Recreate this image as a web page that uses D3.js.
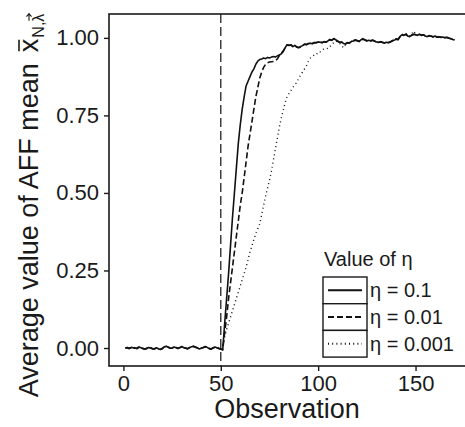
<!DOCTYPE html>
<html>
<head>
<meta charset="utf-8">
<script src="https://cdn.jsdelivr.net/npm/d3@7"></script>
<style>
  body { margin: 0; background: white; }
  svg text { font-family: "Liberation Sans", Arial, sans-serif; fill: #1a1a1a; }
</style>
</head>
<body>
<div id="chart"></div>
<script>
var width = 465;
var height = 427;

// observations 1..170
var obs = d3.range(1, 171);

var eta_01 = [
  0.001, 0.000, -0.002, 0.002, 0.001, -0.001, 0.000, 0.003, 0.001, -0.002,
  -0.004, -0.001, 0.002, 0.000, -0.003, -0.002, 0.001, -0.003, -0.005, -0.002,
  0.004, 0.006, 0.002, -0.001, 0.000, 0.003, 0.001, -0.002, 0.002, 0.005,
  0.001, -0.001, -0.003, 0.002, 0.004, 0.006, 0.003, 0.000, -0.003, -0.001,
  0.002, 0.005, 0.002, -0.002, -0.004, 0.001, 0.003, 0.001, -0.002, -0.004,
  -0.006, 0.08, 0.16, 0.24, 0.33, 0.42, 0.50, 0.58, 0.66, 0.72,
  0.77, 0.81, 0.845, 0.86, 0.875, 0.89, 0.90, 0.915, 0.925, 0.930,
  0.932, 0.935, 0.933, 0.937, 0.935, 0.938, 0.940, 0.938, 0.942, 0.945,
  0.948, 0.955, 0.968, 0.978, 0.975, 0.978, 0.972, 0.976, 0.970, 0.968,
  0.972, 0.975, 0.980, 0.978, 0.982, 0.983, 0.981, 0.985, 0.984, 0.987,
  0.986, 0.984, 0.988, 0.986, 0.990, 0.995, 0.992, 0.998, 0.994, 0.990,
  0.985, 0.987, 0.982, 0.980, 0.985, 0.983, 0.988, 0.990, 0.993, 0.991,
  0.988, 0.994, 0.997, 0.993, 0.990, 0.992, 0.990, 0.993, 0.989, 0.987,
  0.985, 0.988, 0.985, 0.983, 0.986, 0.984, 0.987, 0.990, 0.992, 0.996,
  0.994, 1.004, 1.010, 1.008, 1.012, 1.006, 1.004, 1.009, 1.012, 1.010,
  1.008, 1.012, 1.008, 1.010, 1.006, 1.004, 1.007, 1.005, 1.003, 1.006,
  1.002, 1.004, 1.001, 1.003, 1.000, 1.002, 0.999, 0.998, 0.995, 0.993
];

var eta_001 = [
  0.000, 0.002, -0.001, 0.001, 0.002, 0.000, -0.002, 0.002, 0.002, -0.001,
  -0.003, -0.002, 0.001, 0.001, -0.002, -0.003, 0.000, -0.004, -0.004, -0.001,
  0.003, 0.005, 0.003, 0.000, -0.001, 0.002, 0.002, -0.001, 0.001, 0.004,
  0.002, 0.000, -0.002, 0.001, 0.005, 0.005, 0.002, 0.001, -0.002, 0.000,
  0.001, 0.004, 0.003, -0.001, -0.003, 0.000, 0.002, 0.002, -0.001, -0.003,
  -0.005, 0.05, 0.10, 0.16, 0.21, 0.26, 0.31, 0.36, 0.41, 0.46,
  0.50, 0.55, 0.60, 0.65, 0.69, 0.73, 0.77, 0.81, 0.84, 0.87,
  0.89, 0.905, 0.915, 0.920, 0.922, 0.923, 0.924, 0.926, 0.932, 0.942,
  0.950, 0.958, 0.967, 0.976, 0.977, 0.976, 0.973, 0.975, 0.971, 0.969,
  0.971, 0.976, 0.979, 0.979, 0.981, 0.982, 0.982, 0.984, 0.985, 0.986,
  0.987, 0.985, 0.987, 0.987, 0.991, 0.993, 0.993, 0.997, 0.995, 0.989,
  0.986, 0.986, 0.983, 0.981, 0.984, 0.984, 0.987, 0.991, 0.992, 0.992,
  0.989, 0.993, 0.996, 0.994, 0.991, 0.991, 0.991, 0.992, 0.990, 0.986,
  0.986, 0.987, 0.986, 0.984, 0.985, 0.985, 0.986, 0.991, 0.991, 0.997,
  0.995, 1.003, 1.008, 1.009, 1.011, 1.007, 1.005, 1.008, 1.011, 1.011,
  1.007, 1.011, 1.009, 1.009, 1.007, 1.005, 1.006, 1.006, 1.004, 1.005,
  1.003, 1.003, 1.002, 1.002, 1.001, 1.001, 1.000, 0.997, 0.996, 0.994
];

var eta_0001 = [
  0.001, 0.001, -0.001, 0.001, 0.000, -0.001, 0.001, 0.002, 0.000, -0.002,
  -0.003, 0.000, 0.001, -0.001, -0.002, -0.002, 0.001, -0.002, -0.004, -0.002,
  0.003, 0.005, 0.001, -0.001, 0.001, 0.002, 0.000, -0.001, 0.002, 0.004,
  0.001, -0.001, -0.002, 0.002, 0.003, 0.005, 0.003, 0.001, -0.002, -0.001,
  0.002, 0.004, 0.002, -0.001, -0.003, 0.001, 0.002, 0.001, -0.001, -0.003,
  0.01, 0.035, 0.06, 0.08, 0.10, 0.12, 0.14, 0.16, 0.18, 0.20,
  0.22, 0.24, 0.26, 0.285, 0.31, 0.33, 0.35, 0.37, 0.385, 0.40,
  0.43, 0.46, 0.49, 0.515, 0.54, 0.57, 0.605, 0.64, 0.675, 0.71,
  0.74, 0.765, 0.79, 0.81, 0.82, 0.83, 0.84, 0.85, 0.855, 0.87,
  0.88, 0.89, 0.90, 0.91, 0.925, 0.935, 0.94, 0.945, 0.945, 0.955,
  0.955, 0.96, 0.965, 0.967, 0.965, 0.972, 0.978, 0.985, 0.99, 0.987,
  0.983, 0.975, 0.968, 0.978, 0.984, 0.983, 0.988, 0.991, 0.994, 0.992,
  0.989, 0.995, 0.998, 0.994, 0.990, 0.993, 0.991, 0.994, 0.990, 0.988,
  0.986, 0.989, 0.984, 0.983, 0.986, 0.985, 0.988, 0.991, 0.993, 0.997,
  0.995, 1.005, 1.012, 1.010, 1.014, 1.007, 1.006, 1.012, 1.022, 1.012,
  1.009, 1.013, 1.009, 1.011, 1.007, 1.005, 1.008, 1.006, 1.004, 1.007,
  1.003, 1.005, 1.002, 1.004, 1.001, 1.003, 1.000, 0.999, 0.996, 0.994
];

var series_names = ["\u03b7 = 0.1", "\u03b7 = 0.01", "\u03b7 = 0.001"];
var x_ticks = [0, 50, 100, 150];
var y_ticks = [0.00, 0.25, 0.50, 0.75, 1.00];
var change_point = 50;

var dashes = ["none", "6,3", "1,3.2"];

var margin = { top: 14, right: 0, bottom: 61, left: 109 };

var x = d3.scaleLinear().domain([-7.4, 175.4]).range([margin.left, width]);
var y = d3.scaleLinear().domain([-0.058, 1.077]).range([height - margin.bottom, margin.top]);

var svg = d3.select("#chart")
  .append("svg")
  .attr("width", width)
  .attr("height", height);

// panel border (right side falls outside the picture)
svg.append("rect")
  .attr("x", margin.left)
  .attr("y", margin.top)
  .attr("width", width - margin.left + 2)
  .attr("height", height - margin.bottom - margin.top)
  .attr("fill", "none")
  .attr("stroke", "#1a1a1a")
  .attr("stroke-width", 1.6);

// axes
var xAxis = svg.append("g")
  .attr("transform", `translate(0,${height - margin.bottom})`)
  .call(d3.axisBottom(x).tickValues(x_ticks).tickSize(5).tickPadding(4).tickFormat(d3.format("d")));

var yAxis = svg.append("g")
  .attr("transform", `translate(${margin.left},0)`)
  .call(d3.axisLeft(y).tickValues(y_ticks).tickSize(5).tickPadding(5).tickFormat(d3.format(".2f")));

[xAxis, yAxis].forEach(function (g) {
  g.select(".domain").remove();
  g.selectAll(".tick line").attr("stroke", "#1a1a1a").attr("stroke-width", 1.4);
  g.selectAll(".tick text")
    .attr("fill", "#1a1a1a")
    .style("font-size", "22px")
    .style("font-family", "'Liberation Sans', Arial, sans-serif");
});

// change point
svg.append("line")
  .attr("x1", x(change_point))
  .attr("x2", x(change_point))
  .attr("y1", margin.top)
  .attr("y2", height - margin.bottom)
  .attr("stroke", "#222")
  .attr("stroke-width", 1.3)
  .attr("stroke-dasharray", "9,4");

var line = d3.line()
  .x((d, i) => x(obs[i]))
  .y((d) => y(d));

var all_series = [eta_01, eta_001, eta_0001];

// draw slowest first so the solid line stays on top
[2, 1, 0].forEach(function (k) {
  svg.append("path")
    .datum(all_series[k])
    .attr("d", line)
    .attr("fill", "none")
    .attr("stroke", "#111")
    .attr("stroke-width", k == 2 ? 1.4 : 1.6)
    .attr("stroke-dasharray", dashes[k])
    .attr("stroke-linejoin", "round");
});

// axis titles
svg.append("text")
  .attr("x", (margin.left + width) / 2)
  .attr("y", 418)
  .attr("text-anchor", "middle")
  .style("font-size", "27px")
  .text("Observation");

// y title with the math symbol x-bar_{N, lambda-vector}
var yt = svg.append("g");
var main_t = yt.append("text").style("font-size", "27px").text("Average value of AFF mean");
var w1 = main_t.node().getComputedTextLength();
var xs = w1 + 11;
var x_t = yt.append("text").attr("x", xs).style("font-size", "27px").text("x");
var wx = x_t.node().getComputedTextLength();
yt.append("line")
  .attr("x1", xs + 1).attr("x2", xs + wx - 1)
  .attr("y1", -19).attr("y2", -19)
  .attr("stroke", "#1a1a1a").attr("stroke-width", 1.6);
var sub_x = xs + wx + 1;
var n_t = yt.append("text").attr("x", sub_x).attr("y", 6).style("font-size", "16px").text("N,");
var wn = n_t.node().getComputedTextLength();
var l_t = yt.append("text").attr("x", sub_x + wn).attr("y", 6).style("font-size", "16px").text("\u03bb");
var wl = l_t.node().getComputedTextLength();
var ax0 = sub_x + wn + 1, ax1 = sub_x + wn + wl;
yt.append("path")
  .attr("d", `M${ax0},-9 L${ax1},-9 M${ax1 - 3},-11.5 L${ax1},-9 L${ax1 - 3},-6.5`)
  .attr("fill", "none")
  .attr("stroke", "#1a1a1a")
  .attr("stroke-width", 1.1);
var total = ax1 + 1;
yt.attr("transform", `translate(38,${205 + total / 2}) rotate(-90)`);

// legend
var legend = svg.append("g").attr("transform", "translate(323,277)");
var key_w = 44, key_h = 26.7;

legend.append("text")
  .attr("x", 1)
  .attr("y", -11)
  .style("font-size", "20px")
  .text("Value of \u03b7");

series_names.forEach(function (name, i) {
  var row = legend.append("g").attr("transform", `translate(0,${i * key_h})`);
  row.append("rect")
    .attr("width", key_w)
    .attr("height", key_h)
    .attr("fill", "white")
    .attr("stroke", "#1a1a1a")
    .attr("stroke-width", 1.4);
  row.append("line")
    .attr("x1", 5)
    .attr("x2", key_w - 5)
    .attr("y1", key_h / 2)
    .attr("y2", key_h / 2)
    .attr("stroke", "#111")
    .attr("stroke-width", 2)
    .attr("stroke-dasharray", dashes[i]);
  row.append("text")
    .attr("x", key_w + 3)
    .attr("y", key_h / 2)
    .attr("dy", "0.35em")
    .style("font-size", "20px")
    .text(name);
});
</script>
</body>
</html>
